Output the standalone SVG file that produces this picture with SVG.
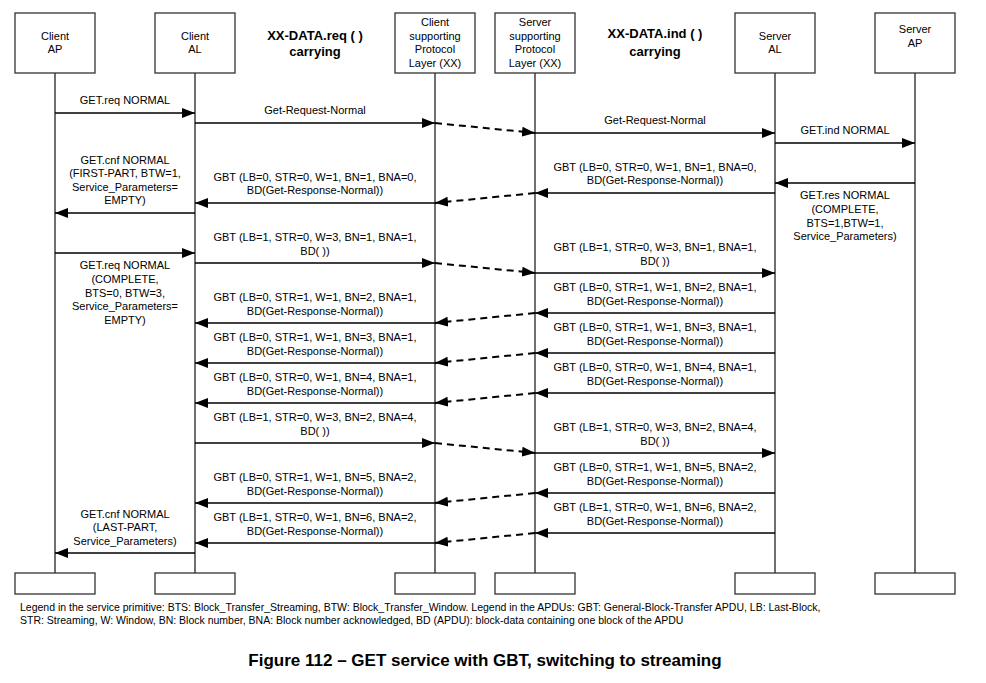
<svg xmlns="http://www.w3.org/2000/svg" width="986" height="683" viewBox="0 0 986 683">
<style>
.box{fill:#fff;stroke:#333;stroke-width:1.3}
.life{stroke:#222;stroke-width:1.3}
.m{stroke:#000;stroke-width:1.3;fill:none;marker-end:url(#ah)}
.d{stroke:#000;stroke-width:2;stroke-dasharray:7,5;fill:none;marker-end:url(#ah)}
text{font-family:"Liberation Sans",Arial,sans-serif;font-size:11px;fill:#000;text-anchor:middle}
.h{font-size:13px;font-weight:bold}
.lg{text-anchor:start;font-size:10.5px}
.t{font-size:17px;font-weight:bold}
</style>
<defs>
<marker id="ah" markerUnits="userSpaceOnUse" markerWidth="14" markerHeight="10" refX="13" refY="5" orient="auto"><path d="M0,0 L13,5 L0,10 z" fill="#000"/></marker>
</defs>
<g id="lifelines">
<line class="life" x1="55" y1="73" x2="55" y2="573"/>
<line class="life" x1="195" y1="73" x2="195" y2="573"/>
<line class="life" x1="435" y1="73" x2="435" y2="573"/>
<line class="life" x1="535" y1="73" x2="535" y2="573"/>
<line class="life" x1="775" y1="73" x2="775" y2="573"/>
<line class="life" x1="915" y1="73" x2="915" y2="573"/>
</g>
<g id="clientAP"><rect class="box" x="15" y="13" width="80" height="60"/><text x="55" y="40">Client</text><text x="55" y="53">AP</text><rect class="box" x="15" y="573" width="80" height="21"/></g>
<g id="clientAL"><rect class="box" x="155" y="13" width="80" height="60"/><text x="195" y="40">Client</text><text x="195" y="53">AL</text><rect class="box" x="155" y="573" width="80" height="21"/></g>
<g id="clientXX"><rect class="box" x="395" y="13" width="80" height="60"/><text x="435" y="26">Client</text><text x="435" y="40">supporting</text><text x="435" y="53">Protocol</text><text x="435" y="67">Layer (XX)</text><rect class="box" x="395" y="573" width="80" height="21"/></g>
<g id="serverXX"><rect class="box" x="495" y="13" width="80" height="60"/><text x="535" y="26">Server</text><text x="535" y="40">supporting</text><text x="535" y="53">Protocol</text><text x="535" y="67">Layer (XX)</text><rect class="box" x="495" y="573" width="80" height="21"/></g>
<g id="serverAL"><rect class="box" x="735" y="13" width="80" height="60"/><text x="775" y="40">Server</text><text x="775" y="53">AL</text><rect class="box" x="735" y="573" width="80" height="21"/></g>
<g id="serverAP"><rect class="box" x="875" y="13" width="80" height="60"/><text x="915" y="33">Server</text><text x="915" y="47">AP</text><rect class="box" x="875" y="573" width="80" height="21"/></g>
<g id="headers"><text class="h" x="315" y="40">XX-DATA.req ( )</text><text class="h" x="315" y="56">carrying</text><text class="h" x="655" y="38">XX-DATA.ind ( )</text><text class="h" x="655" y="56">carrying</text></g>
<g id="connectors">
<line class="m" x1="55" y1="113" x2="195" y2="113"/>
<line class="m" x1="195" y1="123" x2="435" y2="123"/>
<line class="d" x1="435" y1="123" x2="535" y2="133"/>
<line class="m" x1="535" y1="133" x2="775" y2="133"/>
<line class="m" x1="775" y1="143" x2="915" y2="143"/>
<line class="m" x1="915" y1="183" x2="775" y2="183"/>
<line class="m" x1="775" y1="193" x2="535" y2="193"/>
<line class="d" x1="535" y1="193" x2="435" y2="203"/>
<line class="m" x1="435" y1="203" x2="195" y2="203"/>
<line class="m" x1="195" y1="213" x2="55" y2="213"/>
<line class="m" x1="55" y1="253" x2="195" y2="253"/>
<line class="m" x1="195" y1="263" x2="435" y2="263"/>
<line class="d" x1="435" y1="263" x2="535" y2="273"/>
<line class="m" x1="535" y1="273" x2="775" y2="273"/>
<line class="m" x1="775" y1="313" x2="535" y2="313"/>
<line class="d" x1="535" y1="313" x2="435" y2="323"/>
<line class="m" x1="435" y1="323" x2="195" y2="323"/>
<line class="m" x1="775" y1="353" x2="535" y2="353"/>
<line class="d" x1="535" y1="353" x2="435" y2="363"/>
<line class="m" x1="435" y1="363" x2="195" y2="363"/>
<line class="m" x1="775" y1="393" x2="535" y2="393"/>
<line class="d" x1="535" y1="393" x2="435" y2="403"/>
<line class="m" x1="435" y1="403" x2="195" y2="403"/>
<line class="m" x1="195" y1="443" x2="435" y2="443"/>
<line class="d" x1="435" y1="443" x2="535" y2="453"/>
<line class="m" x1="535" y1="453" x2="775" y2="453"/>
<line class="m" x1="775" y1="493" x2="535" y2="493"/>
<line class="d" x1="535" y1="493" x2="435" y2="503"/>
<line class="m" x1="435" y1="503" x2="195" y2="503"/>
<line class="m" x1="775" y1="533" x2="535" y2="533"/>
<line class="d" x1="535" y1="533" x2="435" y2="543"/>
<line class="m" x1="435" y1="543" x2="195" y2="543"/>
<line class="m" x1="195" y1="553" x2="55" y2="553"/>
</g>
<g id="labels">
<text x="125" y="104">GET.req NORMAL</text>
<text x="315" y="114">Get-Request-Normal</text>
<text x="655" y="124">Get-Request-Normal</text>
<text x="845" y="134">GET.ind NORMAL</text>
<text x="845" y="199">GET.res NORMAL</text><text x="845" y="213">(COMPLETE,</text><text x="845" y="227">BTS=1,BTW=1,</text><text x="845" y="240">Service_Parameters)</text>
<text x="655" y="171">GBT (LB=0,  STR=0, W=1, BN=1, BNA=0,</text><text x="655" y="184">BD(Get-Response-Normal))</text>
<text x="315" y="181">GBT (LB=0,  STR=0, W=1, BN=1, BNA=0,</text><text x="315" y="194">BD(Get-Response-Normal))</text>
<text x="125" y="164">GET.cnf NORMAL</text><text x="125" y="177">(FIRST-PART, BTW=1,</text><text x="125" y="191">Service_Parameters=</text><text x="125" y="204">EMPTY)</text>
<text x="125" y="269">GET.req  NORMAL</text><text x="125" y="283">(COMPLETE,</text><text x="125" y="297">BTS=0, BTW=3,</text><text x="125" y="310">Service_Parameters=</text><text x="125" y="324">EMPTY)</text>
<text x="315" y="241">GBT  (LB=1, STR=0, W=3, BN=1, BNA=1,</text><text x="315" y="255">BD( ))</text>
<text x="655" y="251">GBT  (LB=1, STR=0, W=3, BN=1, BNA=1,</text><text x="655" y="265">BD( ))</text>
<text x="655" y="291">GBT (LB=0,  STR=1, W=1, BN=2, BNA=1,</text><text x="655" y="305">BD(Get-Response-Normal))</text>
<text x="315" y="301">GBT (LB=0,  STR=1, W=1, BN=2, BNA=1,</text><text x="315" y="315">BD(Get-Response-Normal))</text>
<text x="655" y="331">GBT (LB=0,  STR=1, W=1, BN=3, BNA=1,</text><text x="655" y="345">BD(Get-Response-Normal))</text>
<text x="315" y="341">GBT (LB=0,  STR=1, W=1, BN=3, BNA=1,</text><text x="315" y="355">BD(Get-Response-Normal))</text>
<text x="655" y="371">GBT (LB=0,  STR=0, W=1, BN=4, BNA=1,</text><text x="655" y="385">BD(Get-Response-Normal))</text>
<text x="315" y="381">GBT (LB=0,  STR=0, W=1, BN=4, BNA=1,</text><text x="315" y="395">BD(Get-Response-Normal))</text>
<text x="315" y="421">GBT  (LB=1, STR=0, W=3, BN=2, BNA=4,</text><text x="315" y="435">BD( ))</text>
<text x="655" y="431">GBT  (LB=1, STR=0, W=3, BN=2, BNA=4,</text><text x="655" y="445">BD( ))</text>
<text x="655" y="471">GBT (LB=0,  STR=1, W=1, BN=5, BNA=2,</text><text x="655" y="485">BD(Get-Response-Normal))</text>
<text x="315" y="481">GBT (LB=0,  STR=1, W=1, BN=5, BNA=2,</text><text x="315" y="495">BD(Get-Response-Normal))</text>
<text x="655" y="511">GBT (LB=1,  STR=0, W=1, BN=6, BNA=2,</text><text x="655" y="525">BD(Get-Response-Normal))</text>
<text x="315" y="521">GBT (LB=1,  STR=0, W=1, BN=6, BNA=2,</text><text x="315" y="535">BD(Get-Response-Normal))</text>
<text x="125" y="518">GET.cnf NORMAL</text><text x="125" y="531">(LAST-PART,</text><text x="125" y="545">Service_Parameters)</text>
</g>
<g id="legend">
<text class="lg" x="20" y="611">Legend in the service primitive: BTS: Block_Transfer_Streaming, BTW: Block_Transfer_Window. Legend in the APDUs: GBT: General-Block-Transfer APDU, LB: Last-Block,</text>
<text class="lg" x="20" y="624">STR: Streaming, W: Window, BN: Block number, BNA: Block number acknowledged, BD (APDU): block-data containing one block of the APDU</text>
<text class="t" x="485" y="666">Figure 112 – GET service with GBT, switching to streaming</text>
</g>
</svg>
